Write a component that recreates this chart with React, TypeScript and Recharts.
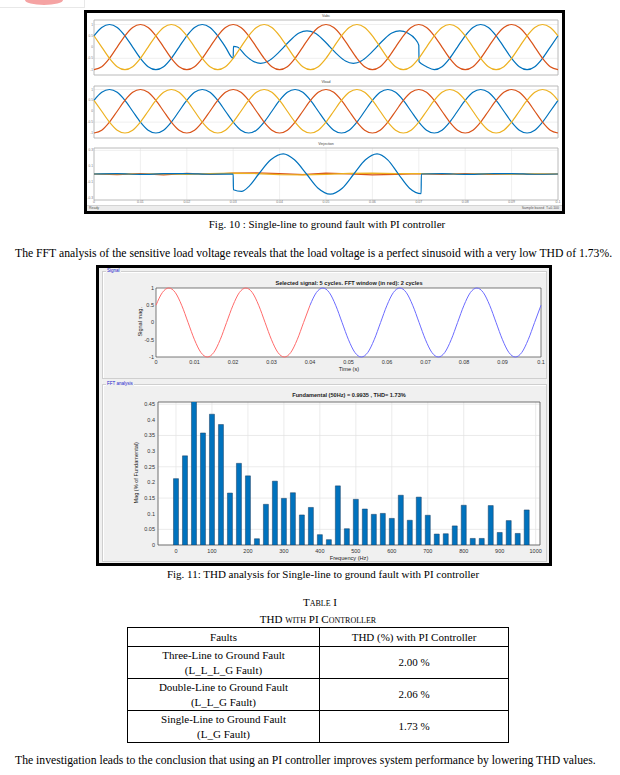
/**
 * Paper page: scope traces (Fig. 10), FFT analysis (Fig. 11) and THD table
 */

import type { CSSProperties } from "react"
import {
  Bar,
  BarChart,
  CartesianGrid,
  Line,
  LineChart,
  ReferenceArea,
  XAxis,
  YAxis,
} from "recharts"

/******************************************************************************
                              Data
******************************************************************************/

// scope samples, 30 degree steps over 0 .. 0.1 s (61 samples)
const PHASE_A = [
  0.5, 0.87, 1, 0.87, 0.5, 0, -0.5, -0.87, -1, -0.87, -0.5, 0,
  0.5, 0.87, 1, 0.87, 0.5, 0, -0.5, -0.87, -1, -0.87, -0.5, 0,
  0.5, 0.87, 1, 0.87, 0.5, 0, -0.5, -0.87, -1, -0.87, -0.5, 0,
  0.5, 0.87, 1, 0.87, 0.5, 0, -0.5, -0.87, -1, -0.87, -0.5, 0,
  0.5, 0.87, 1, 0.87, 0.5, 0, -0.5, -0.87, -1, -0.87, -0.5, 0,
  0.5,
]
const PHASE_B = [
  -1, -0.87, -0.5, 0, 0.5, 0.87, 1, 0.87, 0.5, 0, -0.5, -0.87,
  -1, -0.87, -0.5, 0, 0.5, 0.87, 1, 0.87, 0.5, 0, -0.5, -0.87,
  -1, -0.87, -0.5, 0, 0.5, 0.87, 1, 0.87, 0.5, 0, -0.5, -0.87,
  -1, -0.87, -0.5, 0, 0.5, 0.87, 1, 0.87, 0.5, 0, -0.5, -0.87,
  -1, -0.87, -0.5, 0, 0.5, 0.87, 1, 0.87, 0.5, 0, -0.5, -0.87,
  -1,
]
const PHASE_C = [
  0.5, 0, -0.5, -0.87, -1, -0.87, -0.5, 0, 0.5, 0.87, 1, 0.87,
  0.5, 0, -0.5, -0.87, -1, -0.87, -0.5, 0, 0.5, 0.87, 1, 0.87,
  0.5, 0, -0.5, -0.87, -1, -0.87, -0.5, 0, 0.5, 0.87, 1, 0.87,
  0.5, 0, -0.5, -0.87, -1, -0.87, -0.5, 0, 0.5, 0.87, 1, 0.87,
  0.5, 0, -0.5, -0.87, -1, -0.87, -0.5, 0, 0.5, 0.87, 1, 0.87,
  0.5,
]

// Vabc phase A during the fault (0.03 .. 0.07 s)
const FAULT_T = [
  0.03005, 0.0309, 0.0326, 0.0342, 0.0359, 0.0376, 0.0392, 0.0409, 0.0426,
  0.0442, 0.0459, 0.0476, 0.0492, 0.0509, 0.0526, 0.0542, 0.0559, 0.0576,
  0.0592, 0.0609, 0.0626, 0.0642, 0.0659, 0.0676, 0.0692, 0.07, 0.07005,
]
const FAULT_V = [
  0.03, 0, -0.36, -0.62, -0.72, -0.62, -0.36, 0, 0.36,
  0.62, 0.72, 0.62, 0.36, 0, -0.36, -0.62, -0.72, -0.62,
  -0.36, 0, 0.36, 0.62, 0.72, 0.62, 0.36, 0.08, -0.65,
]

// Vinjection
const INJ_A_T = [
  0, 0.005, 0.01, 0.015, 0.02, 0.025, 0.03, 0.03005, 0.0318, 0.0335, 0.0355,
  0.0381, 0.0408, 0.0432, 0.0458, 0.0483, 0.0509, 0.0535, 0.056, 0.0585,
  0.061, 0.0633, 0.0656, 0.068, 0.0705, 0.07055, 0.075, 0.08, 0.085, 0.09,
  0.095, 0.1,
]
const INJ_A_V = [
  0, 0.005, -0.005, 0.004, 0.006, -0.003, 0, -0.2, -0.22, -0.15, 0,
  0.18, 0.255, 0.18, 0, -0.18, -0.255, -0.18, 0, 0.18,
  0.255, 0.18, 0, -0.18, -0.25, 0, 0.004, -0.004, 0.003, 0.005,
  -0.003, 0,
]
const INJ_BC_T = [
  0, 0.005, 0.01, 0.015, 0.02, 0.025, 0.03, 0.035, 0.04, 0.045, 0.05, 0.055,
  0.06, 0.065, 0.07, 0.075, 0.08, 0.085, 0.09, 0.095, 0.1,
]
const INJ_B_V = [
  0, -0.008, 0.006, -0.01, 0.008, -0.006, 0.012, 0.015, 0.005, -0.008, 0.012,
  0.002, -0.012, -0.006, 0.006, -0.005, 0.004, -0.006, 0.003, -0.004, 0,
]
const INJ_C_V = [
  0, 0.006, -0.004, 0.005, -0.004, 0.006, 0.01, 0.006, -0.008, -0.012, -0.004,
  0.008, 0.012, 0.004, 0.006, 0.003, -0.003, 0.004, -0.002, 0.003, 0,
]

// Fig. 11 selected signal (red: FFT window, first 2 cycles)
const SIGNAL_MAG = [
  0.5, 0.87, 1, 0.87, 0.5, 0, -0.5, -0.87, -1, -0.87, -0.5, 0,
  0.5, 0.87, 1, 0.87, 0.5, 0, -0.5, -0.87, -1, -0.87, -0.5, 0,
  0.5, 0.87, 1, 0.87, 0.5, 0, -0.5, -0.87, -1, -0.87, -0.5, 0,
  0.5, 0.87, 1, 0.87, 0.5, 0, -0.5, -0.87, -1, -0.87, -0.5, 0,
  0.5, 0.87, 1, 0.87, 0.5, 0, -0.5, -0.87, -1, -0.87, -0.5, 0,
  0.5,
]

const FFT_FREQ = [
  0, 25, 50, 75, 100, 125, 150, 175, 200, 225, 250, 275, 300, 325, 350, 375,
  400, 425, 450, 475, 500, 525, 550, 575, 600, 625, 650, 675, 700, 725, 750,
  775, 800, 825, 850, 875, 900, 925, 950, 975,
]
const FFT_MAG = [
  0.212, 0.285, 0.47, 0.358, 0.418, 0.385, 0.166, 0.261, 0.221, 0.02, 0.13,
  0.204, 0.149, 0.167, 0.096, 0.12, 0.033, 0.017, 0.189, 0.052, 0.146, 0.115,
  0.098, 0.101, 0.085, 0.159, 0.079, 0.153, 0.095, 0.035, 0.036, 0.061, 0.127,
  0.021, 0.021, 0.126, 0.04, 0.078, 0.037, 0.112,
]

const TIME_TICKS = [0, 0.01, 0.02, 0.03, 0.04, 0.05, 0.06, 0.07, 0.08, 0.09, 0.1]
const VOLT_TICKS = [-1, -0.5, 0, 0.5, 1]
const INJ_TICKS = [-0.3, -0.2, -0.1, 0, 0.1, 0.2, 0.3]
const FFT_X_TICKS = [0, 100, 200, 300, 400, 500, 600, 700, 800, 900, 1000]
const FFT_Y_TICKS = [0, 0.05, 0.1, 0.15, 0.2, 0.25, 0.3, 0.35, 0.4, 0.45]

const TABLE_ROWS = [
  ["Three-Line to Ground Fault", "(L_L_L_G Fault)", "2.00 %"],
  ["Double-Line to Ground Fault", "(L_L_G Fault)", "2.06 %"],
  ["Single-Line to Ground Fault", "(L_G Fault)", "1.73 %"],
]

/******************************************************************************
                              Constants
******************************************************************************/

const BLUE = "#0072BD"
const RED = "#D95319"
const YELLOW = "#EDB120"
const SANS = '"Liberation Sans", Arial, sans-serif'
const SERIF = '"Liberation Serif", "Times New Roman", serif'

const TEXT: CSSProperties = {
  position: "absolute",
  fontFamily: SERIF,
  fontSize: 11,
  lineHeight: "13px",
  color: "#000",
  whiteSpace: "nowrap",
}

/******************************************************************************
                              Functions
******************************************************************************/

type Pt = { t: number; v: number }

function toPoints(ts: number[], vs: number[]): Pt[] {
  return ts.map((t, i) => ({ t, v: vs[i] }))
}

const GRID_T = PHASE_A.map((_, i) => +(i * (0.1 / 60)).toFixed(6))

const loadA = toPoints(GRID_T, PHASE_A)
const loadB = toPoints(GRID_T, PHASE_B)
const loadC = toPoints(GRID_T, PHASE_C)
const abcA = [
  ...toPoints(GRID_T.slice(0, 19), PHASE_A.slice(0, 19)),
  ...toPoints(FAULT_T, FAULT_V),
  ...toPoints(GRID_T.slice(43), PHASE_A.slice(43)),
]
const injA = toPoints(INJ_A_T, INJ_A_V)
const injB = toPoints(INJ_BC_T, INJ_B_V)
const injC = toPoints(INJ_BC_T, INJ_C_V)
const sigRed = toPoints(GRID_T.slice(0, 25), SIGNAL_MAG.slice(0, 25))
const sigBlue = toPoints(GRID_T.slice(24), SIGNAL_MAG.slice(24))
const fftData = FFT_FREQ.map((f, i) => ({ f, mag: FFT_MAG[i] }))

/******************************************************************************
                              Components
******************************************************************************/

interface IScopeProps {
  title: string
  top: number
  height: number
  marginTop: number
  marginBottom: number
  yDomain: [number, number]
  yTicks: number[]
  series: { data: Pt[]; color: string; type: "monotone" | "linear" }[]
  showX?: boolean
}

function ScopePanel(props: Readonly<IScopeProps>) {
  const { title, top, height, marginTop, marginBottom, yDomain, yTicks, series, showX } = props
  return (
    <div style={{ position: "absolute", left: 87, top, width: 475, height }}>
      <LineChart
        width={475}
        height={height}
        margin={{ top: marginTop, right: 4, bottom: marginBottom, left: 0 }}
      >
        <CartesianGrid stroke="#e4e4e4" strokeWidth={0.6} fill="#fff" />
        <XAxis
          type="number"
          dataKey="t"
          domain={[0, 0.1]}
          ticks={TIME_TICKS}
          height={showX ? 6 : 0}
          axisLine={false}
          tickLine={false}
          tickSize={0}
          tick={showX ? { fontSize: 3.5, fill: "#777", fontFamily: SANS } : false}
          tickMargin={1}
        />
        <YAxis
          type="number"
          domain={yDomain}
          ticks={yTicks}
          allowDataOverflow
          width={7}
          axisLine={false}
          tickLine={false}
          tickSize={0}
          tick={{ fontSize: 3.2, fill: "#777", fontFamily: SANS }}
          tickMargin={1}
        />
        <ReferenceArea
          x1={0}
          x2={0.1}
          y1={yDomain[0]}
          y2={yDomain[1]}
          fill="none"
          stroke="#b5b5b5"
          strokeWidth={0.8}
        />
        {series.map((s, i) => (
          <Line
            key={i}
            data={s.data}
            dataKey="v"
            type={s.type}
            stroke={s.color}
            strokeWidth={1.2}
            dot={false}
            isAnimationActive={false}
          />
        ))}
      </LineChart>
      <div
        style={{
          position: "absolute",
          left: 7,
          width: 464,
          top: marginTop - 6,
          textAlign: "center",
          fontFamily: SANS,
          fontSize: 3.6,
          color: "#444",
        }}
      >
        {title}
      </div>
    </div>
  )
}

function ScopeFigure() {
  return (
    <div
      style={{
        position: "absolute",
        left: 84,
        top: 10,
        width: 475,
        height: 198,
        border: "3px solid #000",
        background: "#fff",
      }}
    >
      <div style={{ position: "absolute", left: -87, top: -13 }}>
        <ScopePanel
          title="Vabc"
          top={13}
          height={63}
          marginTop={7}
          marginBottom={1}
          yDomain={[-1.24, 1.2]}
          yTicks={VOLT_TICKS}
          series={[
            { data: abcA, color: BLUE, type: "monotone" },
            { data: loadB, color: RED, type: "monotone" },
            { data: loadC, color: YELLOW, type: "monotone" },
          ]}
        />
        <ScopePanel
          title="Vload"
          top={77}
          height={62}
          marginTop={9}
          marginBottom={1}
          yDomain={[-1.23, 1.16]}
          yTicks={VOLT_TICKS}
          series={[
            { data: loadA, color: BLUE, type: "monotone" },
            { data: loadB, color: RED, type: "monotone" },
            { data: loadC, color: YELLOW, type: "monotone" },
          ]}
        />
        <ScopePanel
          title="Vinjection"
          top={140}
          height={66}
          marginTop={8}
          marginBottom={0}
          yDomain={[-0.33, 0.33]}
          yTicks={INJ_TICKS}
          showX
          series={[
            { data: injB, color: RED, type: "linear" },
            { data: injC, color: YELLOW, type: "linear" },
            { data: injA, color: BLUE, type: "monotone" },
          ]}
        />
      </div>
      <div
        style={{
          position: "absolute",
          left: 0,
          right: 0,
          bottom: 0,
          height: 5,
          background: "#ececec",
          borderTop: "1px solid #d4d4d4",
          fontFamily: SANS,
          fontSize: 3.5,
          lineHeight: "5px",
          color: "#555",
        }}
      >
        <span style={{ position: "absolute", left: 2 }}>Ready</span>
        <span style={{ position: "absolute", right: 3 }}>Sample based&nbsp;&nbsp;T=0.100</span>
      </div>
    </div>
  )
}

function GroupBox(props: Readonly<{ label: string; left: number; top: number; width: number; height: number }>) {
  const { label, left, top, width, height } = props
  return (
    <>
      <div
        style={{
          position: "absolute",
          left,
          top,
          width,
          height,
          border: "1px solid #cfcfcf",
          boxShadow: "inset 1px 1px 0 #fff",
        }}
      />
      <div
        style={{
          position: "absolute",
          left: left + 4,
          top: top - 3,
          padding: "0 1px",
          background: "#f0f0f0",
          fontFamily: SANS,
          fontSize: 4.5,
          lineHeight: "6px",
          color: "#1a1acc",
        }}
      >
        {label}
      </div>
    </>
  )
}

function AxisText(props: Readonly<{ text: string; cx: number; cy: number; size: number; bold?: boolean; rotate?: boolean }>) {
  const { text, cx, cy, size, bold, rotate } = props
  return (
    <div
      style={{
        position: "absolute",
        left: cx - 100,
        top: cy - size / 2 - 1,
        width: 200,
        textAlign: "center",
        fontFamily: SANS,
        fontSize: size,
        lineHeight: `${size + 2}px`,
        fontWeight: bold ? 700 : 400,
        color: "#222",
        whiteSpace: "nowrap",
        transform: rotate ? "rotate(-90deg)" : undefined,
      }}
    >
      {text}
    </div>
  )
}

function FftFigure() {
  const tick = { fontSize: 5.5, fill: "#333", fontFamily: SANS }
  return (
    <>
      <div
        style={{
          position: "absolute",
          left: 96,
          top: 265,
          width: 450,
          height: 295,
          border: "3px solid #000",
          background: "#f0f0f0",
        }}
      />
      <GroupBox label="Signal" left={102} top={271} width={443} height={106} />
      <GroupBox label="FFT analysis" left={102} top={384} width={443} height={176} />

      <div style={{ position: "absolute", left: 126, top: 278 }}>
        <LineChart width={423} height={95} margin={{ top: 10, right: 8, bottom: 0, left: 0 }}>
          <CartesianGrid horizontal={false} vertical={false} fill="#fff" />
          <XAxis
            type="number"
            dataKey="t"
            domain={[0, 0.1]}
            ticks={TIME_TICKS}
            height={16}
            axisLine={false}
            tickLine={false}
            tickSize={0}
            tick={tick}
            tickMargin={3}
          />
          <YAxis
            type="number"
            domain={[-1, 1]}
            ticks={VOLT_TICKS}
            width={30}
            axisLine={false}
            tickLine={false}
            tickSize={0}
            tick={tick}
            tickMargin={2}
          />
          <ReferenceArea x1={0} x2={0.1} y1={-1} y2={1} fill="none" stroke="#444" strokeWidth={0.7} />
          <Line data={sigRed} dataKey="v" type="monotone" stroke="#ff6b6b" strokeWidth={1} dot={false} isAnimationActive={false} />
          <Line data={sigBlue} dataKey="v" type="monotone" stroke="#6b6bff" strokeWidth={1} dot={false} isAnimationActive={false} />
        </LineChart>
      </div>
      <AxisText text="Selected signal: 5 cycles. FFT window (in red): 2 cycles" cx={349} cy={284} size={5.6} bold />
      <AxisText text="Time (s)" cx={349} cy={370} size={5.6} />
      <AxisText text="Signal mag." cx={141} cy={322} size={5.6} rotate />

      <div style={{ position: "absolute", left: 126, top: 392 }}>
        <BarChart width={422} height={169} data={fftData} margin={{ top: 10, right: 8, bottom: 0, left: 0 }}>
          <CartesianGrid stroke="#e2e2e2" strokeWidth={0.7} fill="#fff" />
          <XAxis
            type="number"
            dataKey="f"
            domain={[-50, 1012]}
            ticks={FFT_X_TICKS}
            height={16}
            axisLine={false}
            tickLine={false}
            tickSize={0}
            tick={tick}
            tickMargin={4}
          />
          <YAxis
            type="number"
            domain={[0, 0.457]}
            ticks={FFT_Y_TICKS}
            allowDataOverflow
            width={32}
            axisLine={false}
            tickLine={false}
            tickSize={0}
            tick={tick}
            tickMargin={3}
          />
          <Bar
            dataKey="mag"
            fill={BLUE}
            stroke="#163a5e"
            strokeWidth={0.5}
            barSize={5}
            isAnimationActive={false}
          />
          <ReferenceArea x1={-50} x2={1012} y1={0} y2={0.457} fill="none" stroke="#444" strokeWidth={0.7} />
        </BarChart>
      </div>
      <AxisText text="Fundamental (50Hz) = 0.9935 , THD= 1.73%" cx={349} cy={396} size={5.6} bold />
      <AxisText text="Frequency (Hz)" cx={349} cy={559} size={5.6} />
      <AxisText text="Mag (% of Fundamental)" cx={137} cy={473} size={5.6} rotate />
    </>
  )
}

function ThdTable() {
  const cell: CSSProperties = {
    border: "1px solid #000",
    padding: 0,
    textAlign: "center",
    verticalAlign: "middle",
    fontFamily: SERIF,
    fontSize: 11,
    lineHeight: "15px",
  }
  return (
    <table
      style={{
        position: "absolute",
        left: 127,
        top: 627,
        width: 382,
        borderCollapse: "collapse",
        tableLayout: "fixed",
      }}
    >
      <tbody>
        <tr style={{ height: 19 }}>
          <td style={{ ...cell, width: 191 }}>Faults</td>
          <td style={cell}>THD (%) with PI Controller</td>
        </tr>
        {TABLE_ROWS.map((r) => (
          <tr key={r[0]} style={{ height: 32 }}>
            <td style={cell}>
              {r[0]}
              <br />
              {r[1]}
            </td>
            <td style={cell}>{r[2]}</td>
          </tr>
        ))}
      </tbody>
    </table>
  )
}

export default function App() {
  return (
    <div
      style={{
        position: "absolute",
        left: 0,
        top: 0,
        width: 620,
        height: 775,
        background: "#fff",
        overflow: "hidden",
      }}
    >
      <div
        style={{
          position: "absolute",
          left: 0,
          top: 0,
          width: 84,
          height: 7,
          borderRight: "1px solid #e8e8e8",
          borderBottom: "1px solid #e8e8e8",
        }}
      />
      <div
        style={{
          position: "absolute",
          left: 25,
          top: -5,
          width: 38,
          height: 10,
          borderRadius: "50%",
          background: "#f5a3a3",
        }}
      />

      <ScopeFigure />
      <div style={{ ...TEXT, left: 127, width: 400, top: 218, textAlign: "center" }}>
        Fig. 10 : Single-line to ground fault with PI controller
      </div>

      <div style={{ ...TEXT, left: 15, top: 247, fontSize: 11.7 }}>
        The FFT analysis of the sensitive load voltage reveals that the load voltage is a perfect sinusoid with a very low THD of 1.73%.
      </div>

      <FftFigure />
      <div style={{ ...TEXT, left: 123, width: 400, top: 568, textAlign: "center" }}>
        Fig. 11: THD analysis for Single-line to ground fault with PI controller
      </div>

      <div style={{ ...TEXT, left: 120, width: 400, top: 596, textAlign: "center", fontVariant: "small-caps" }}>
        Table I
      </div>
      <div style={{ ...TEXT, left: 118, width: 400, top: 613, textAlign: "center", fontVariant: "small-caps" }}>
        THD with PI Controller
      </div>

      <ThdTable />

      <div style={{ ...TEXT, left: 15, top: 754, fontSize: 11.7 }}>
        The investigation leads to the conclusion that using an PI controller improves system performance by lowering THD values.
      </div>
    </div>
  )
}
